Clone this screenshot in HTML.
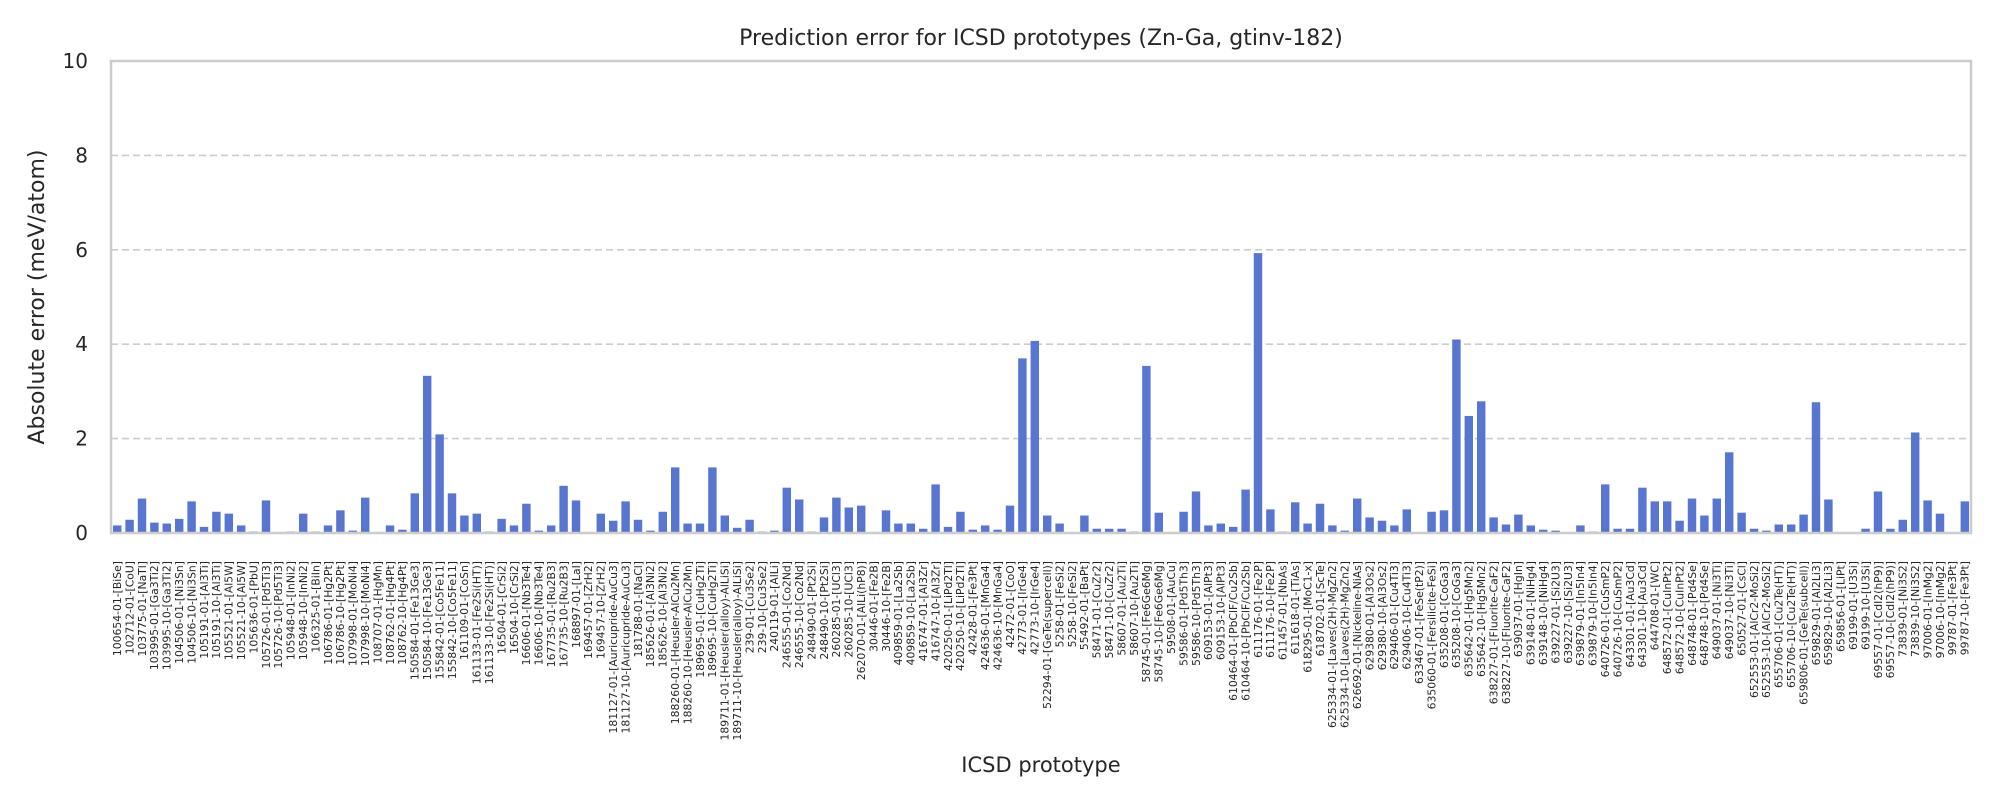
<!DOCTYPE html>
<html><head><meta charset="utf-8">
<style>
html,body{margin:0;padding:0;background:#fff;}
svg{display:block;font-family:"DejaVu Sans","Liberation Sans",sans-serif;}
</style></head>
<body>
<svg id="chart" width="2000" height="800" viewBox="0 0 2000 800" xmlns="http://www.w3.org/2000/svg">
  <rect x="0" y="0" width="2000" height="800" fill="#fff"/>
  <text x="1041" y="45" font-size="22" text-anchor="middle" fill="#262626">Prediction error for ICSD prototypes (Zn-Ga, gtinv-182)</text>
  <g id="grid"></g>
  <g id="bars"></g>
  <rect x="111" y="61" width="1860" height="472" fill="none" stroke="#cccccc" stroke-width="2.5"/>
  <g id="yticks"></g>
  <g id="xticks"></g>
  <text transform="translate(44,297) rotate(-90)" font-size="22" text-anchor="middle" fill="#262626">Absolute error (meV/atom)</text>
  <text x="1041" y="772" font-size="21" text-anchor="middle" fill="#262626">ICSD prototype</text>
</svg>
<script>
const categories = ["100654-01-[BiSe]","102712-01-[CoU]","103775-01-[NaTl]","103995-01-[Ga3Ti2]","103995-10-[Ga3Ti2]","104506-01-[Ni3Sn]","104506-10-[Ni3Sn]","105191-01-[Al3Ti]","105191-10-[Al3Ti]","105521-01-[Al5W]","105521-10-[Al5W]","105636-01-[PbU]","105726-01-[Pd5Ti3]","105726-10-[Pd5Ti3]","105948-01-[InNi2]","105948-10-[InNi2]","106325-01-[BiIn]","106786-01-[Hg2Pt]","106786-10-[Hg2Pt]","107998-01-[MoNi4]","107998-10-[MoNi4]","108707-01-[HgMn]","108762-01-[Hg4Pt]","108762-10-[Hg4Pt]","150584-01-[Fe13Ge3]","150584-10-[Fe13Ge3]","155842-01-[Co5Fe11]","155842-10-[Co5Fe11]","161109-01-[CoSn]","161133-01-[Fe2Si(HT)]","161133-10-[Fe2Si(HT)]","16504-01-[CrSi2]","16504-10-[CrSi2]","16606-01-[Nb3Te4]","16606-10-[Nb3Te4]","167735-01-[Ru2B3]","167735-10-[Ru2B3]","168897-01-[LaI]","169457-01-[ZrH2]","169457-10-[ZrH2]","181127-01-[Auricupride-AuCu3]","181127-10-[Auricupride-AuCu3]","181788-01-[NaCl]","185626-01-[Al3Ni2]","185626-10-[Al3Ni2]","188260-01-[Heusler-AlCu2Mn]","188260-10-[Heusler-AlCu2Mn]","189695-01-[CuHg2Ti]","189695-10-[CuHg2Ti]","189711-01-[Heusler(alloy)-AlLiSi]","189711-10-[Heusler(alloy)-AlLiSi]","239-01-[Cu3Se2]","239-10-[Cu3Se2]","240119-01-[AlLi]","246555-01-[Co2Nd]","246555-10-[Co2Nd]","248490-01-[Pt2Si]","248490-10-[Pt2Si]","260285-01-[UCl3]","260285-10-[UCl3]","262070-01-[AlLi(hP8)]","30446-01-[Fe2B]","30446-10-[Fe2B]","409859-01-[La2Sb]","409859-10-[La2Sb]","416747-01-[Al3Zr]","416747-10-[Al3Zr]","420250-01-[LiPd2Tl]","420250-10-[LiPd2Tl]","42428-01-[Fe3Pt]","424636-01-[MnGa4]","424636-10-[MnGa4]","42472-01-[CoO]","42773-01-[IrGe4]","42773-10-[IrGe4]","52294-01-[GeTe(supercell)]","5258-01-[FeSi2]","5258-10-[FeSi2]","55492-01-[BaPt]","58471-01-[CuZr2]","58471-10-[CuZr2]","58607-01-[Au2Ti]","58607-10-[Au2Ti]","58745-01-[Fe6Ge6Mg]","58745-10-[Fe6Ge6Mg]","59508-01-[AuCu]","59586-01-[Pd5Th3]","59586-10-[Pd5Th3]","609153-01-[AlPt3]","609153-10-[AlPt3]","610464-01-[PbClF/Cu2Sb]","610464-10-[PbClF/Cu2Sb]","611176-01-[Fe2P]","611176-10-[Fe2P]","611457-01-[NbAs]","611618-01-[TiAs]","618295-01-[MoC1-x]","618702-01-[ScTe]","625334-01-[Laves(2H)-MgZn2]","625334-10-[Laves(2H)-MgZn2]","626692-01-[Nickeline-NiAs]","629380-01-[Al3Os2]","629380-10-[Al3Os2]","629406-01-[Cu4Ti3]","629406-10-[Cu4Ti3]","633467-01-[FeSe(tP2)]","635060-01-[Fersilicite-FeSi]","635208-01-[CoGa3]","635208-10-[CoGa3]","635642-01-[Hg5Mn2]","635642-10-[Hg5Mn2]","638227-01-[Fluorite-CaF2]","638227-10-[Fluorite-CaF2]","639037-01-[HgIn]","639148-01-[NiHg4]","639148-10-[NiHg4]","639227-01-[Si2U3]","639227-10-[Si2U3]","639879-01-[In5In4]","639879-10-[In5In4]","640726-01-[CuSmP2]","640726-10-[CuSmP2]","643301-01-[Au3Cd]","643301-10-[Au3Cd]","644708-01-[WC]","648572-01-[CuInPt2]","648572-10-[CuInPt2]","648748-01-[Pd4Se]","648748-10-[Pd4Se]","649037-01-[Ni3Ti]","649037-10-[Ni3Ti]","650527-01-[CsCl]","652553-01-[AlCr2-MoSi2]","652553-10-[AlCr2-MoSi2]","655706-01-[Cu2Te(HT)]","655706-10-[Cu2Te(HT)]","659806-01-[GeTe(subcell)]","659829-01-[Al2Li3]","659829-10-[Al2Li3]","659856-01-[LiPt]","69199-01-[U3Si]","69199-10-[U3Si]","69557-01-[CdI2(hP9)]","69557-10-[CdI2(hP9)]","73839-01-[Ni3S2]","73839-10-[Ni3S2]","97006-01-[InMg2]","97006-10-[InMg2]","99787-01-[Fe3Pt]","99787-10-[Fe3Pt]"];
const errors = [0.16,0.28,0.73,0.22,0.2,0.3,0.67,0.13,0.45,0.41,0.16,0.03,0.69,0,0.03,0.41,0.03,0.16,0.48,0.05,0.75,0,0.16,0.07,0.84,
3.33,2.09,0.84,0.37,0.41,0.03,0.3,0.16,0.62,0.05,0.16,1.0,0.69,0,0.41,0.26,0.67,0.28,0.05,0.45,1.39,0.2,0.2,1.39,0.37,
0.11,0.28,0.03,0.05,0.96,0.71,0.03,0.33,0.75,0.54,0.58,0,0.48,0.2,0.2,0.09,1.03,0.13,0.45,0.07,0.16,0.07,0.58,3.7,4.07,
0.37,0.2,0,0.37,0.09,0.09,0.09,0.03,3.54,0.43,0,0.45,0.88,0.16,0.2,0.13,0.92,5.93,0.5,0.03,0.65,0.2,0.62,0.16,0.05,
0.73,0.33,0.26,0.16,0.5,0,0.45,0.48,4.1,2.48,2.79,0.33,0.18,0.39,0.16,0.07,0.05,0,0.16,0.03,1.03,0.09,0.09,0.96,0.67,
0.67,0.26,0.73,0.37,0.73,1.71,0.43,0.09,0.05,0.18,0.18,0.39,2.77,0.71,0,0,0.09,0.88,0.09,0.28,2.13,0.69,0.41,0,0.67];
const yTicks = [0,2,4,6,8,10];

const NS = "http://www.w3.org/2000/svg";
const X0 = 111, X1 = 1971, Y0 = 533, Y1 = 61, YMAX = 10;
const step = (X1 - X0) / categories.length;
function xPos(i){ return X0 + step * (i + 0.5); }
function yPos(v){ return Y0 - (v / YMAX) * (Y0 - Y1); }

const grid = document.getElementById('grid');
const yt = document.getElementById('yticks');
yTicks.forEach(t => {
  if (t > 0 && t < YMAX) {
    const l = document.createElementNS(NS, 'line');
    l.setAttribute('x1', X0); l.setAttribute('x2', X1);
    l.setAttribute('y1', yPos(t)); l.setAttribute('y2', yPos(t));
    l.setAttribute('stroke', '#cccccc'); l.setAttribute('stroke-width', '1.6');
    l.setAttribute('stroke-dasharray', '7,4');
    
    
    grid.appendChild(l);
  }
  const tx = document.createElementNS(NS, 'text');
  tx.setAttribute('x', 88); tx.setAttribute('y', yPos(t) + 7);
  tx.setAttribute('font-size', '20'); tx.setAttribute('text-anchor', 'end');
  tx.setAttribute('fill', '#262626');
  tx.textContent = t;
  
  
  yt.appendChild(tx);
});

const bars = document.getElementById('bars');
const xt = document.getElementById('xticks');
const bw = step * 0.68;
errors.forEach((v, i) => {
  const r = document.createElementNS(NS, 'rect');
  r.setAttribute('x', xPos(i) - bw / 2);
  r.setAttribute('y', yPos(v));
  r.setAttribute('width', bw);
  r.setAttribute('height', Y0 - yPos(v));
  r.setAttribute('fill', '#5875cf');
  
  
  bars.appendChild(r);
});
categories.forEach((c, i) => {
  const tx = document.createElementNS(NS, 'text');
  const x = xPos(i) + 3.8, y = 561;
  tx.setAttribute('transform', 'translate(' + x + ',' + y + ') rotate(-90)');
  tx.setAttribute('font-size', '10.8');
  tx.setAttribute('text-anchor', 'end');
  tx.setAttribute('fill', '#262626');
  tx.textContent = c;
  
  
  xt.appendChild(tx);
});
</script>
</body></html>
